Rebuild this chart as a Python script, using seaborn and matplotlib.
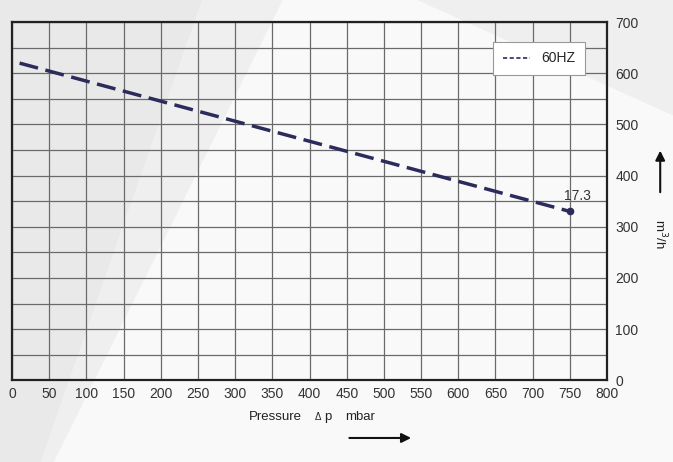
import matplotlib
matplotlib.use('Agg')
import matplotlib.pyplot as plt
import seaborn as sns
import pandas as pd
from matplotlib.patches import Polygon, FancyArrowPatch

# Данные кривой (давление, расход)
pressure = [10, 750]
flow = [620, 330]
end_label = "17.3"
series_name = "60HZ"
x_ticks = list(range(0, 801, 50))
y_ticks = list(range(0, 701, 100))

sns.set_style("white")
plt.rcParams['font.family'] = ['Liberation Sans', 'DejaVu Sans']

fig = plt.figure(figsize=(6.73, 4.62), dpi=100, facecolor='#efefef')

# Светлый фон с диагональными бликами
bg = fig.add_axes([0, 0, 1, 1], zorder=-10)
bg.set_xlim(0, 1)
bg.set_ylim(0, 1)
bg.axis('off')
bg.add_patch(Polygon([[0.08, 0.0], [1.0, 0.0], [1.0, 0.75], [0.62, 1.0], [0.42, 1.0]],
                     closed=True, color='#f9f9f9', lw=0))
bg.add_patch(Polygon([[0.0, 0.0], [0.06, 0.0], [0.30, 1.0], [0.0, 1.0]],
                     closed=True, color='#e9e9e9', lw=0))

ax = fig.add_axes([0.018, 0.177, 0.884, 0.775])
ax.set_facecolor('none')

df = pd.DataFrame({'pressure': pressure, 'flow': flow})
sns.lineplot(data=df, x='pressure', y='flow', ax=ax, color='#2b2b5c',
             linewidth=2.5, label=series_name)
ax.lines[0].set_dashes([5.5, 2.2])
ax.plot(pressure[-1], flow[-1], 'o', color='#2b2b5c', markersize=4.5)
ax.annotate(end_label, (pressure[-1], flow[-1]), xytext=(-4, 6),
            textcoords='offset points', ha='left', va='bottom',
            fontsize=10, color='#333333')

ax.set_xlim(0, 800)
ax.set_ylim(0, 700)
ax.set_xticks(x_ticks)
ax.set_yticks(range(0, 701, 50), minor=True)
ax.set_yticks(y_ticks)
ax.yaxis.tick_right()
ax.tick_params(axis='both', which='both', length=0, labelsize=10, colors='#333333')
ax.tick_params(axis='y', pad=6)
ax.tick_params(axis='x', pad=5)
ax.grid(True, which='both', color='#6a6a6a', linewidth=0.9)
for s in ax.spines.values():
    s.set_color('#222222')
    s.set_linewidth(1.6)
ax.set_xlabel('')
ax.set_ylabel('')

leg = ax.legend(loc='upper right', bbox_to_anchor=(0.975, 0.965), fontsize=10,
                frameon=True, fancybox=False, handlelength=2.0,
                borderpad=0.7, edgecolor='#999999', framealpha=1)
leg.get_frame().set_linewidth(0.8)
leg.get_lines()[0].set_linewidth(1.2)
leg.get_lines()[0].set_dashes([2.5, 1.5])

# Подписи осей со стрелками
fig.text(0.37, 0.09, 'Pressure', fontsize=9.5, color='#222222', ha='left')
fig.text(0.468, 0.09, '\u0394', fontsize=7, color='#222222', ha='left')
fig.text(0.482, 0.09, 'p', fontsize=9.5, color='#222222', ha='left')
fig.text(0.513, 0.09, 'mbar', fontsize=9.5, color='#222222', ha='left')
fig.add_artist(FancyArrowPatch(
    (0.515, 0.052), (0.615, 0.052), transform=fig.transFigure,
    arrowstyle='-|>', mutation_scale=14, color='#111111', lw=1.5))
fig.add_artist(FancyArrowPatch(
    (0.981, 0.578), (0.981, 0.68), transform=fig.transFigure,
    arrowstyle='-|>', mutation_scale=14, color='#111111', lw=1.5))
fig.text(0.981, 0.495, 'm$^3$/h', fontsize=9.5, color='#222222',
         rotation=-90, ha='center', va='center')

fig.savefig('out.png', dpi=100, facecolor=fig.get_facecolor())
